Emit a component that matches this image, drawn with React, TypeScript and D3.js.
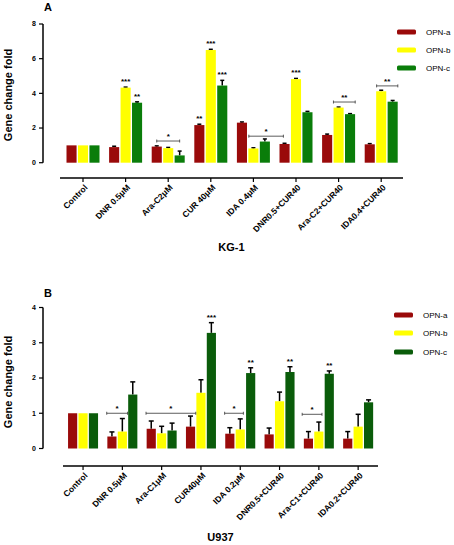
import React from "react";
import * as d3 from "d3";

const seriesNames = ["OPN-a", "OPN-b", "OPN-c"];

// Panel A (KG-1)
const catsA = ["Control", "DNR 0.5μM", "Ara-C2μM", "CUR 40μM", "IDA 0.4μM", "DNR0.5+CUR40", "Ara-C2+CUR40", "IDA0.4+CUR40"];
const aVals = [1, 0.9, 0.93, 2.17, 2.31, 1.08, 1.6, 1.06];
const bValsA = [1, 4.33, 0.84, 6.5, 0.82, 4.82, 3.18, 4.12];
const cValsA = [1, 3.46, 0.42, 4.45, 1.22, 2.91, 2.8, 3.52];
const aErrA = [0, 0.05, 0.04, 0.05, 0.04, 0.04, 0.05, 0.04];
const bErrA = [0, 0.03, 0.04, 0.04, 0.04, 0.04, 0.03, 0.06];
const cErrA = [0, 0.05, 0.25, 0.3, 0.15, 0.05, 0.03, 0.07];
const ticksA = [0, 2, 4, 6, 8];
const starsA = [
  { cat: 1, s: 1, text: "***" }, { cat: 1, s: 2, text: "**" },
  { cat: 3, s: 0, text: "**" }, { cat: 3, s: 1, text: "***" }, { cat: 3, s: 2, text: "***" },
  { cat: 5, s: 1, text: "***" },
];
const bracketsA = [
  { c1: 2, s1: 0, c2: 2, s2: 2, y: 1.25, text: "*" },
  { c1: 4, s1: 0.6, c2: 5, s2: -0.1, y: 1.53, text: "*" },
  { c1: 6, s1: 0.55, c2: 6, s2: 2.45, y: 3.5, text: "**" },
  { c1: 7, s1: 0.6, c2: 7, s2: 2.45, y: 4.43, text: "**" },
];

// Panel B (U937)
const catsB = ["Control", "DNR 0.5μM", "Ara-C1μM", "CUR40μM", "IDA 0.2μM", "DNR0.5+CUR40", "Ara-C1+CUR40", "IDA0.2+CUR40"];
const aValsB = [1, 0.34, 0.56, 0.62, 0.42, 0.4, 0.28, 0.28];
const bValsB = [1, 0.48, 0.43, 1.58, 0.54, 1.34, 0.48, 0.62];
const cValsB = [1, 1.53, 0.51, 3.28, 2.14, 2.17, 2.12, 1.31];
const aErrB = [0, 0.13, 0.22, 0.3, 0.17, 0.18, 0.2, 0.2];
const bErrB = [0, 0.37, 0.2, 0.37, 0.3, 0.26, 0.27, 0.35];
const cErrB = [0, 0.36, 0.21, 0.29, 0.15, 0.15, 0.08, 0.07];
const ticksB = [0, 1, 2, 3, 4];
const starsB = [
  { cat: 3, s: 2, text: "***" },
  { cat: 4, s: 2, text: "**" },
  { cat: 5, s: 2, text: "**" },
  { cat: 6, s: 2, text: "**" },
];
const bracketsB = [
  { c1: 1, s1: -0.5, c2: 1, s2: 1.5, y: 1.0, text: "*" },
  { c1: 2, s1: -0.5, c2: 3, s2: 0.5, y: 1.0, text: "*" },
  { c1: 4, s1: -0.5, c2: 4, s2: 1.3, y: 1.0, text: "*" },
  { c1: 6, s1: -0.6, c2: 6, s2: 1.3, y: 0.97, text: "*" },
];

const FONT = "'Liberation Sans', Arial, sans-serif";

type PanelProps = {
  label: string; title: string; cats: string[];
  vals: number[][]; errs: number[][]; ticks: number[];
  stars: { cat: number; s: number; text: string }[];
  brackets: { c1: number; s1: number; c2: number; s2: number; y: number; text: string }[];
  yMax: number; y0: number; y1: number; axisX: number;
  xr: [number, number]; xLine: [number, number]; xAxisY: number;
  groupW: number; colors: string[]; legendX: number; legendY: number[];
  labelY: number; titleY: number; panelLabelY: number; capW: number;
};

function Panel(p: PanelProps) {
  const y = d3.scaleLinear().domain([0, p.yMax]).range([p.y0, p.y1]);
  const x = d3.scaleBand<string>().domain(p.cats).range(p.xr).paddingInner(0).paddingOuter(0);
  const sub = d3.scaleBand<string>().domain(seriesNames).range([-p.groupW / 2, p.groupW / 2]).paddingInner(0.12);
  const center = (c: number) => (x(p.cats[c]) as number) + x.bandwidth() / 2;
  const step = sub.step();
  const sx = (c: number, s: number) => center(c) + (s - 1) * step;
  const bw = sub.bandwidth();
  const titleX = (p.xLine[0] + p.xLine[1]) / 2;
  return (
    <g fontFamily={FONT}>
      <text x={p.axisX + 1} y={p.panelLabelY} fontSize={11} fontWeight="bold">{p.label}</text>
      <text transform={`translate(12,${p.labelY}) rotate(-90)`} textAnchor="middle" fontSize={11} fontWeight="bold">Gene change fold</text>
      {/* y axis */}
      <line x1={p.axisX} x2={p.axisX} y1={y(0)} y2={y(p.yMax)} stroke="#000" strokeWidth={1.5} />
      {p.ticks.map((t) => (
        <g key={t}>
          <line x1={p.axisX - 4} x2={p.axisX} y1={y(t)} y2={y(t)} stroke="#000" strokeWidth={1.2} />
          <text x={p.axisX - 7} y={y(t)} dy="0.35em" textAnchor="end" fontSize={7} fontWeight="bold">{t}</text>
        </g>
      ))}
      {/* x axis */}
      <line x1={p.xLine[0]} x2={p.xLine[1]} y1={p.xAxisY} y2={p.xAxisY} stroke="#000" strokeWidth={1.5} />
      {p.cats.map((c, i) => (
        <g key={c}>
          <line x1={center(i)} x2={center(i)} y1={p.xAxisY} y2={p.xAxisY + 4} stroke="#000" strokeWidth={1.2} />
          <text transform={`translate(${center(i) + 3},${p.xAxisY + 8}) rotate(-45)`} textAnchor="end" dy="0.35em" fontSize={8.5} fontWeight="bold">{c}</text>
        </g>
      ))}
      <text x={titleX} y={p.titleY} textAnchor="middle" fontSize={11} fontWeight="bold">{p.title}</text>
      {/* bars */}
      {p.cats.map((c, i) =>
        seriesNames.map((s, j) => {
          const v = p.vals[j][i];
          const e = p.errs[j][i];
          const bx = center(i) + (sub(s) as number);
          const cx = bx + bw / 2;
          return (
            <g key={c + s}>
              {e > 0 && (
                <g stroke="#000" strokeWidth={1.5}>
                  <line x1={cx} x2={cx} y1={y(v)} y2={y(v + e)} />
                  <line x1={cx - p.capW / 2} x2={cx + p.capW / 2} y1={y(v + e)} y2={y(v + e)} />
                </g>
              )}
              <rect x={bx} y={y(v)} width={bw} height={y(0) - y(v)} fill={p.colors[j]} />
            </g>
          );
        })
      )}
      {/* stars */}
      {p.stars.map((st, k) => {
        const v = p.vals[st.s][st.cat] + p.errs[st.s][st.cat];
        return (
          <text key={k} x={sx(st.cat, st.s)} y={y(v) - 3} textAnchor="middle" fontSize={8} fontWeight="bold">{st.text}</text>
        );
      })}
      {p.brackets.map((b, k) => {
        const x1 = sx(b.c1, b.s1);
        const x2 = sx(b.c2, b.s2);
        const yy = y(b.y);
        return (
          <g key={k}>
            <line x1={x1} x2={x2} y1={yy} y2={yy} stroke="#333" strokeWidth={0.8} />
            <line x1={x1} x2={x1} y1={yy - 1.5} y2={yy + 1.5} stroke="#333" strokeWidth={0.8} />
            <line x1={x2} x2={x2} y1={yy - 1.5} y2={yy + 1.5} stroke="#333" strokeWidth={0.8} />
            <text x={(x1 + x2) / 2} y={yy - 2} textAnchor="middle" fontSize={8} fontWeight="bold">{b.text}</text>
          </g>
        );
      })}
      {/* legend */}
      {seriesNames.map((s, j) => (
        <g key={s}>
          <rect x={p.legendX} y={p.legendY[j] - 2.5} width={19} height={5} rx={1.5} fill={p.colors[j]} />
          <text x={p.legendX + 29} y={p.legendY[j]} dy="0.35em" fontSize={8}>{s}</text>
        </g>
      ))}
    </g>
  );
}

export default function App() {
  return (
    <svg width={454} height={545} style={{ position: "absolute", left: 0, top: 0, background: "#fff" }}>
      <Panel
        label="A" title="KG-1" cats={catsA}
        vals={[aVals, bValsA, cValsA]} errs={[aErrA, bErrA, cErrA]} ticks={ticksA}
        stars={starsA} brackets={bracketsA}
        yMax={8} y0={162.7} y1={24} axisX={43}
        xr={[61.7, 402.5]} xLine={[60, 403]} xAxisY={178}
        groupW={33} colors={["#9a0a0a", "#ffff00", "#0a7d0a"]}
        legendX={397} legendY={[32, 50, 68]}
        labelY={95} titleY={251} panelLabelY={11} capW={4}
      />
      <Panel
        label="B" title="U937" cats={catsB}
        vals={[aValsB, bValsB, cValsB]} errs={[aErrB, bErrB, cErrB]} ticks={ticksB}
        stars={starsB} brackets={bracketsB}
        yMax={4} y0={448.5} y1={307.5} axisX={43}
        xr={[63.4, 377.8]} xLine={[63, 378]} xAxisY={466}
        groupW={30} colors={["#9a0a0a", "#ffff00", "#0a5c0a"]}
        legendX={394} legendY={[315, 333, 352]}
        labelY={382} titleY={541} panelLabelY={297} capW={5}
      />
    </svg>
  );
}
